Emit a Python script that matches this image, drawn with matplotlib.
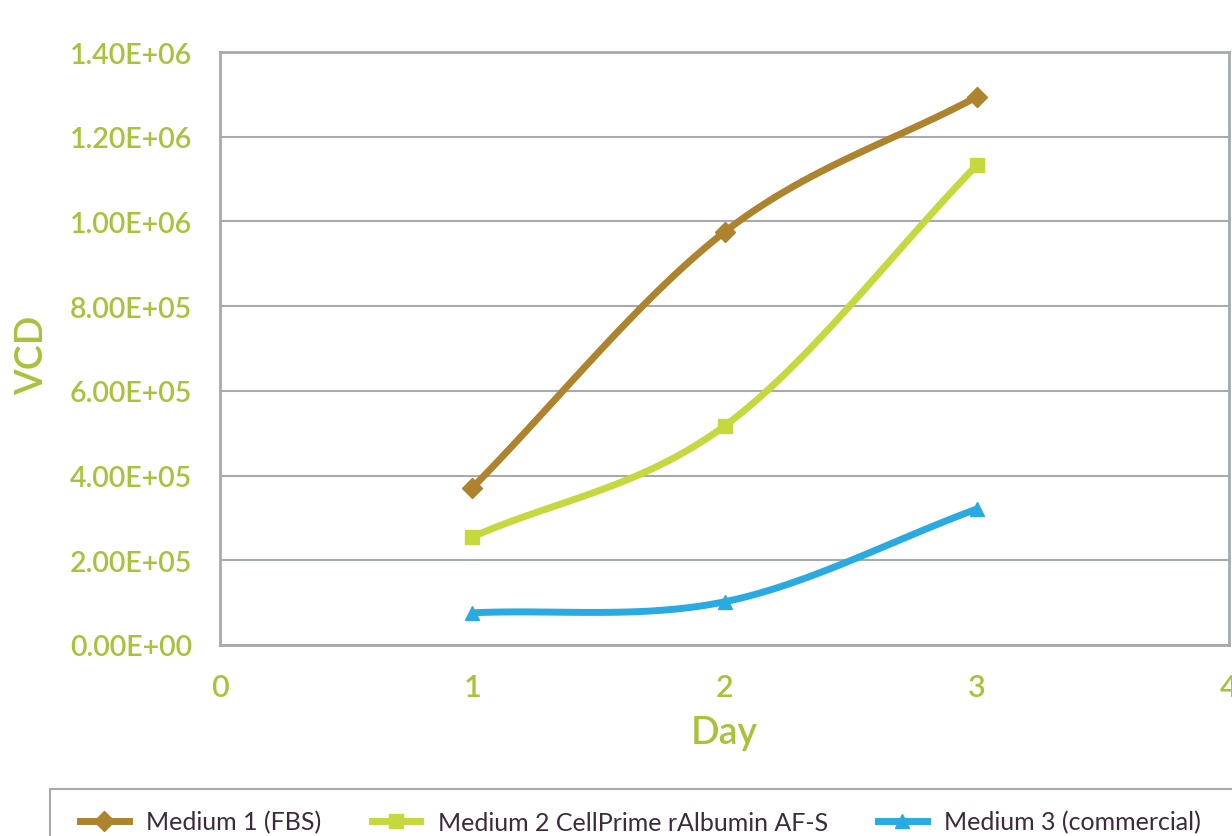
import numpy as np
import matplotlib
matplotlib.use("Agg")
import matplotlib.pyplot as plt
from matplotlib.patches import Rectangle
from matplotlib.ticker import FuncFormatter

days = [1, 2, 3]
medium1 = [3.71e5, 9.75e5, 1.294e6]
medium2 = [2.55e5, 5.17e5, 1.133e6]
medium3 = [7.6e4, 1.02e5, 3.21e5]
labels = ["Medium 1 (FBS)", "Medium 2 CellPrime rAlbumin AF-S", "Medium 3 (commercial)"]
colors = ["#AD832D", "#C5D93F", "#29ABE2"]
markers = ["D", "s", "^"]

TICK = "#A9C23A"
GRID = "#A6AAAD"

plt.rcParams["font.family"] = ["Lato", "DejaVu Sans"]


def smooth(x, y, n=40):
    # Catmull-Rom spline through the points, like a spreadsheet "smoothed line"
    x = np.asarray(x, float)
    y = np.asarray(y, float)
    px = np.concatenate([[2 * x[0] - x[1]], x, [2 * x[-1] - x[-2]]])
    py = np.concatenate([[2 * y[0] - y[1]], y, [2 * y[-1] - y[-2]]])
    xs, ys = [], []
    for i in range(1, len(px) - 2):
        t = np.linspace(0, 1, n)
        for p, out in ((px, xs), (py, ys)):
            p0, p1, p2, p3 = p[i - 1], p[i], p[i + 1], p[i + 2]
            out.extend(0.5 * (2 * p1 + (-p0 + p2) * t
                              + (2 * p0 - 5 * p1 + 4 * p2 - p3) * t ** 2
                              + (-p0 + 3 * p1 - 3 * p2 + p3) * t ** 3))
    return xs, ys


W, H = 1232, 837
fig = plt.figure(figsize=(W / 100, H / 100), dpi=100)
ax = fig.add_axes([220 / W, 1 - 646 / H, 1009 / W, 593 / H])

handles = []
for y, lab, c, m in zip([medium1, medium2, medium3], labels, colors, markers):
    sx, sy = smooth(days, y)
    ax.plot(sx, sy, color=c, lw=5, solid_capstyle="butt", zorder=3)
    ax.plot(days, y, linestyle="none", marker=m, color=c, ms=10, zorder=4)
    h, = ax.plot([], [], color=c, lw=5, marker=m, ms=10, label=lab)
    handles.append(h)

ax.set_xlim(0, 4)
ax.set_ylim(0, 1.4e6)
ax.set_xticks([0, 1, 2, 3, 4])
ax.set_yticks(np.arange(0, 1.41e6, 2e5))
ax.yaxis.set_major_formatter(FuncFormatter(lambda v, p: "%.2E" % v))
ax.grid(axis="y", color=GRID, lw=1.5)
ax.set_axisbelow(True)
for s in ax.spines.values():
    s.set_color(GRID)
    s.set_linewidth(2)
ax.tick_params(length=0, colors=TICK)
ax.tick_params(axis="y", labelsize=20.5, pad=20)
ax.tick_params(axis="x", labelsize=22, pad=20)
for t in ax.get_yticklabels() + ax.get_xticklabels():
    t.set_fontweight("semibold")

ax.set_xlabel("Day", color=TICK, fontsize=27, fontweight="semibold", labelpad=10)
ax.set_ylabel("VCD", color=TICK, fontsize=27, fontweight="semibold")
ax.yaxis.set_label_coords(-0.168, 0.49)

# legend frame runs past the bottom/right edge of the figure
fig.patches.append(Rectangle((50 / W, -0.05), 1.0, 1.05 - 790 / H, transform=fig.transFigure,
                             fill=False, edgecolor=GRID, lw=1.5))
leg = fig.legend(handles=handles, loc="center left", bbox_to_anchor=(80 / W, 1 - 823 / H),
                 ncol=3, fontsize=18, frameon=False,
                 handlelength=1.95, columnspacing=2.0, borderpad=0, handletextpad=0.7,
                 borderaxespad=0, labelcolor="#3D2B3D")

fig.savefig("out.png", dpi=100)
